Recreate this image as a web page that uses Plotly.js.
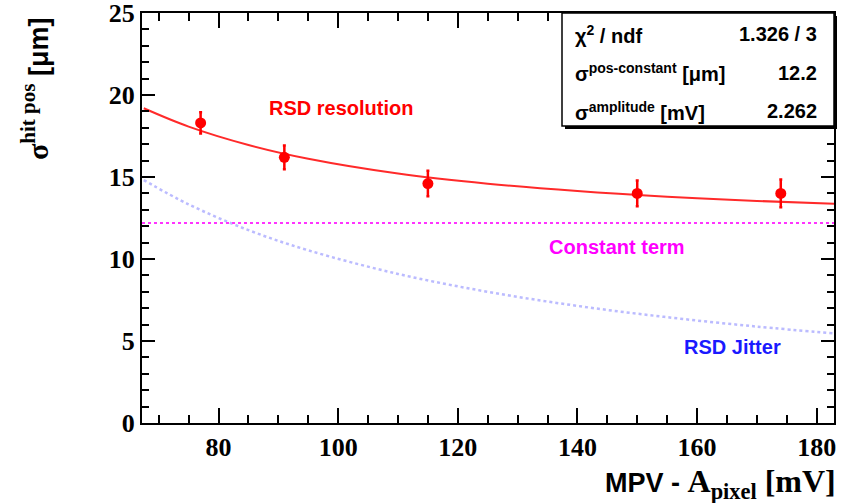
<!DOCTYPE html>
<html>
<head>
<meta charset="utf-8">
<script src="https://cdn.plot.ly/plotly-3.0.1.min.js"></script>
<style>
  html, body { margin: 0; padding: 0; background: #ffffff; }
  #chart { width: 848px; height: 503px; }
</style>
</head>
<body>
<div id="chart"></div>
<script>
// Measured hit-position resolution vs. MPV amplitude
const mpv = [77, 91, 115, 150, 174];
const sigmaHit = [18.3, 16.2, 14.6, 14.0, 14.0];
const sigmaErr = [0.65, 0.72, 0.78, 0.78, 0.85];

// Fitted total resolution and its two components, sampled along the MPV axis
const curveX = [67.5, 75, 85, 95, 110, 125, 140, 155, 170, 183];
const resolutionCurve = [19.19, 18.07, 16.95, 16.11, 15.21, 14.59, 14.14, 13.80, 13.54, 13.37];
const jitterCurve = [14.81, 13.33, 11.76, 10.53, 9.09, 8.00, 7.14, 6.45, 5.88, 5.46];
const constX = [67.2, 182.9];
const constTerm = [12.2, 12.2];

// Fit summary box
const statLabels = ['χ<sup>2</sup> / ndf', 'σ<sup>pos-constant</sup> [μm]', 'σ<sup>amplitude</sup> [mV]'];
const statValues = ['1.326 / 3', '12.2', '2.262'];

const xTicks = [80, 100, 120, 140, 160, 180];
const yTicks = [0, 5, 10, 15, 20, 25];

const SANS = 'Liberation Sans, Arial, sans-serif';
const SERIF = 'Liberation Serif, Times New Roman, serif';

const traces = [
  {
    x: curveX, y: jitterCurve, mode: 'lines', type: 'scatter',
    line: { color: 'rgba(120,120,255,0.5)', width: 2.5, dash: 'dot', shape: 'spline' },
    hoverinfo: 'skip'
  },
  {
    x: constX, y: constTerm, mode: 'lines', type: 'scatter',
    line: { color: '#ff33ff', width: 2, dash: 'dot' },
    hoverinfo: 'skip'
  },
  {
    x: curveX, y: resolutionCurve, mode: 'lines', type: 'scatter',
    line: { color: '#ff2a2a', width: 2, shape: 'spline' },
    hoverinfo: 'skip'
  },
  {
    x: mpv, y: sigmaHit, mode: 'markers', type: 'scatter',
    marker: { color: '#ff0000', size: 11 },
    error_y: { type: 'data', array: sigmaErr, visible: true, color: '#ff0000', thickness: 2.5, width: 1.5 }
  }
];

// paper-coordinate helpers for the plot frame (142..834 px, 13..423 px)
const px = v => (v - 142) / 692;
const py = v => (423 - v) / 410;

const annotations = [
  { x: 100.5, y: 19.2, xref: 'x', yref: 'y', text: 'RSD resolution', showarrow: false,
    font: { family: SANS, size: 20, color: '#ff0000', weight: 'bold' } },
  { x: 146.6, y: 10.73, xref: 'x', yref: 'y', text: 'Constant term', showarrow: false,
    font: { family: SANS, size: 20, color: '#ff00ff', weight: 'bold' } },
  { x: 165.9, y: 4.63, xref: 'x', yref: 'y', text: 'RSD Jitter', showarrow: false,
    font: { family: SANS, size: 20, color: '#1a1aff', weight: 'bold' } },
  // y axis title
  { x: px(35), y: py(89), xref: 'paper', yref: 'paper', textangle: -90, showarrow: false,
    xanchor: 'center', yanchor: 'middle',
    text: '<span style="font-family:Liberation Serif;font-size:30px">σ<sup>hit pos</sup></span> [μm]',
    font: { family: SANS, size: 27, color: '#000000', weight: 'bold' } },
  // x axis title
  { x: px(838), y: py(484), xref: 'paper', yref: 'paper', showarrow: false,
    xanchor: 'right', yanchor: 'middle',
    text: 'MPV - <span style="font-family:Liberation Serif;font-size:32px">A<sub>pixel</sub> [mV]</span>',
    font: { family: SANS, size: 27, color: '#000000', weight: 'bold' } }
];

const rowY = [34, 72.5, 111];
statLabels.forEach((t, i) => {
  annotations.push({ x: px(573), y: py(rowY[i]), xref: 'paper', yref: 'paper', showarrow: false,
    xanchor: 'left', yanchor: 'middle', text: t,
    font: { family: SANS, size: 20, color: '#000000', weight: 'bold' } });
  annotations.push({ x: px(819), y: py(rowY[i]), xref: 'paper', yref: 'paper', showarrow: false,
    xanchor: 'right', yanchor: 'middle', text: statValues[i],
    font: { family: SANS, size: 20, color: '#000000', weight: 'bold' } });
});

const shapes = [
  // drop shadow of the fit box
  { type: 'rect', xref: 'paper', yref: 'paper', x0: px(565), x1: px(837), y0: py(16), y1: py(129),
    fillcolor: '#000000', line: { width: 0 }, layer: 'above' },
  { type: 'rect', xref: 'paper', yref: 'paper', x0: px(562), x1: px(834), y0: py(13), y1: py(126),
    fillcolor: '#ffffff', line: { color: '#000000', width: 1.5 }, layer: 'above' }
];

const axisCommon = {
  showgrid: false, zeroline: false, showline: true, linecolor: '#000000', linewidth: 2,
  mirror: 'allticks', ticks: 'inside', tickcolor: '#000000', tickwidth: 2,
  ticklabeloverflow: 'allow',
  tickfont: { family: SERIF, size: 26, color: '#000000', weight: 'bold' }
};

const layout = {
  width: 848, height: 503,
  margin: { l: 142, r: 14, t: 13, b: 80 },
  paper_bgcolor: '#ffffff', plot_bgcolor: '#ffffff',
  showlegend: false,
  xaxis: Object.assign({}, axisCommon, {
    range: [67.2, 182.9], tickmode: 'array', tickvals: xTicks, ticklen: 15,
    minor: { dtick: 5, ticklen: 8, ticks: 'inside', tickcolor: '#000000', tickwidth: 2 }
  }),
  yaxis: Object.assign({}, axisCommon, {
    range: [0, 25], tickmode: 'array', tickvals: yTicks, ticklen: 13,
    minor: { dtick: 1, ticklen: 7, ticks: 'inside', tickcolor: '#000000', tickwidth: 2 }
  }),
  annotations: annotations,
  shapes: shapes
};

Plotly.newPlot('chart', traces, layout, { displayModeBar: false, staticPlot: true });
</script>
</body>
</html>
